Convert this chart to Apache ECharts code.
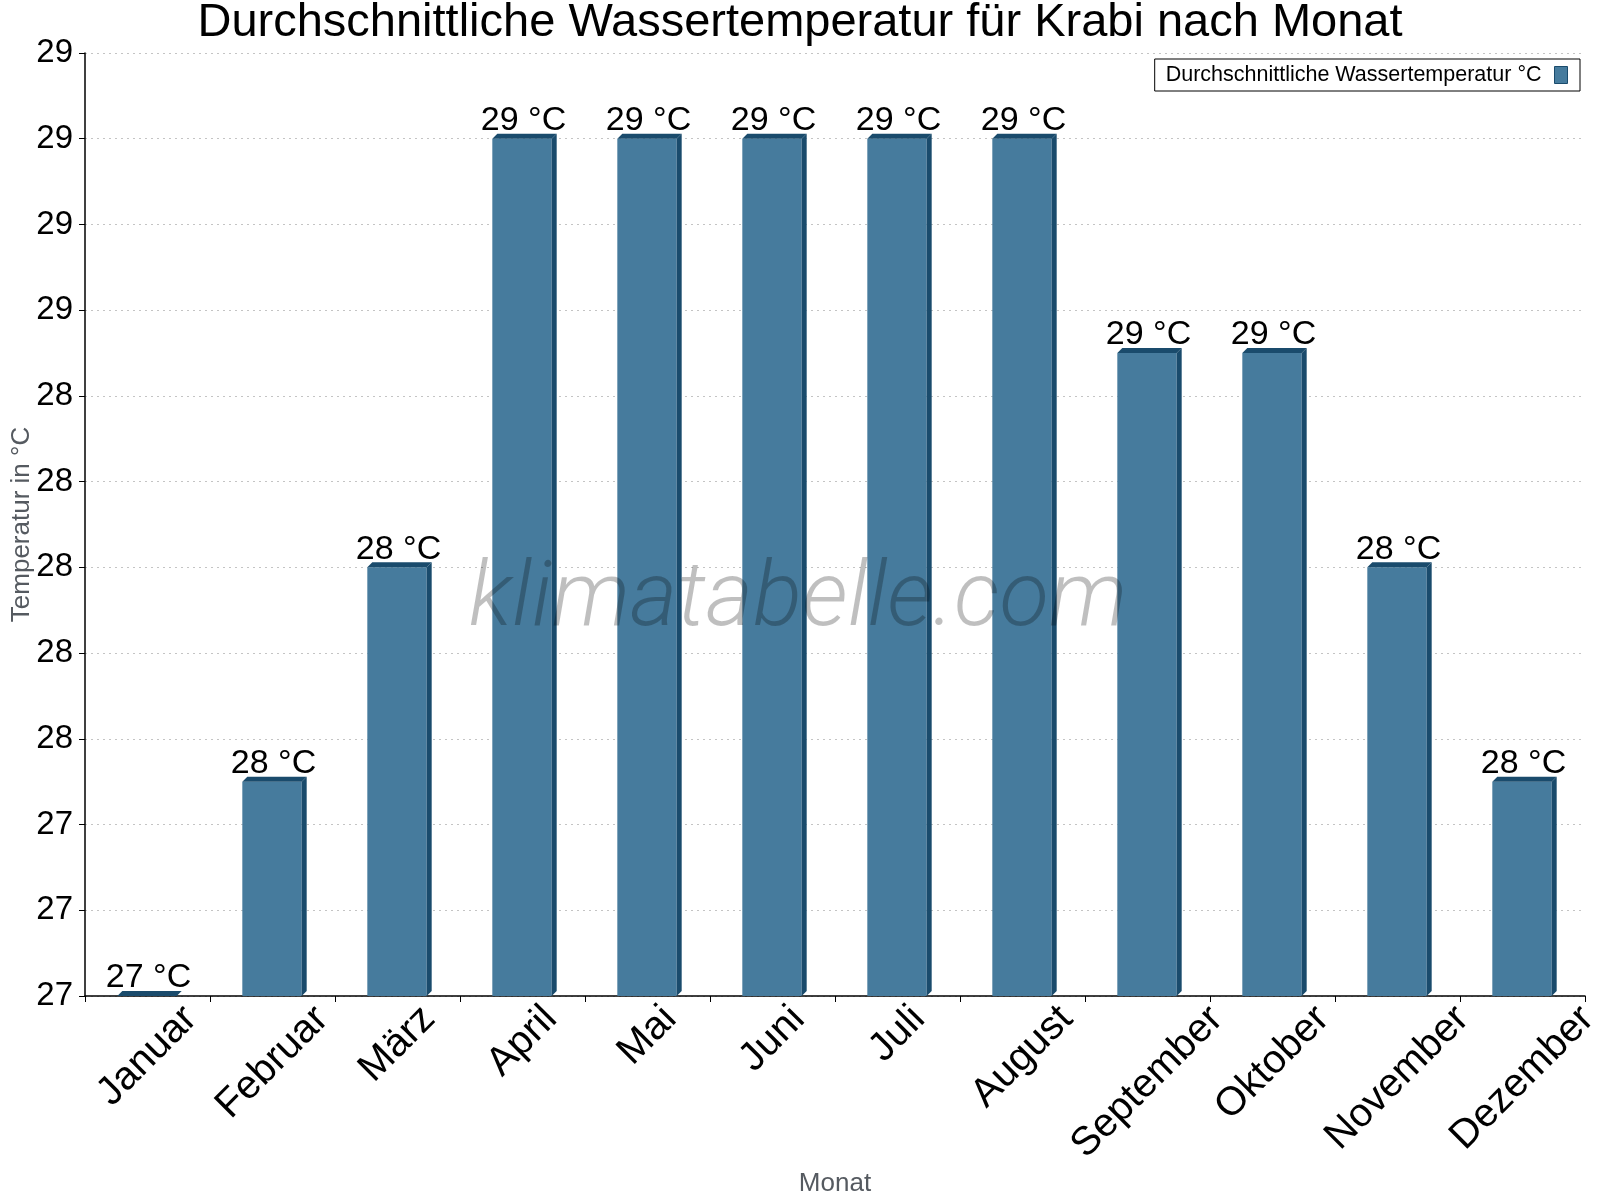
<!DOCTYPE html>
<html>
<head>
<meta charset="utf-8">
<script src="https://cdn.jsdelivr.net/npm/echarts@6/dist/echarts.min.js"></script>
<style>html,body{margin:0;padding:0;background:#fff}#c{width:1600px;height:1200px}</style>
</head>
<body>
<div id="c"></div>
<script>
const months = ['Januar','Februar','März','April','Mai','Juni','Juli','August','September','Oktober','November','Dezember'];
const waterTemp = [27.0, 27.5, 28.0, 29.0, 29.0, 29.0, 29.0, 29.0, 28.5, 28.5, 28.0, 27.5];
const seriesName = 'Durchschnittliche Wassertemperatur °C';
const titleText = 'Durchschnittliche Wassertemperatur für Krabi nach Monat';
const yMin = 27.0, yMax = 29.2, yStep = 0.2;

const FRONT = '#467b9d';
const DARK = '#1a4b6c';
const FONT = '"Liberation Sans", Arial, sans-serif';
const XLABEL_SIZE = 40;

// measure label widths so each rotated label's bounding box is centred under its category
const mctx = document.createElement('canvas').getContext('2d');
mctx.font = XLABEL_SIZE + 'px "Liberation Sans", Arial, sans-serif';
const xRich = {};
months.forEach((m, i) => {
  const half = Math.round(mctx.measureText(m).width / 2);
  xRich['m' + i] = {fontFamily: FONT, fontSize: XLABEL_SIZE, color: '#000', padding: [half, half, 0, 0]};
});

const chart = echarts.init(document.getElementById('c'), null, {renderer:'canvas'});

function renderItem(params, api) {
  const ci = api.value(0), v = api.value(1);
  const p = api.coord([ci, v]);
  const b = api.coord([ci, yMin]);
  const w = api.size([1, 0])[0] * 0.475;
  const x0 = p[0] - w / 2 - 0.5, x1 = x0 + w;
  const dx = 5, dy = 5;
  return {
    type: 'group',
    children: [
      {type:'rect', shape:{x:x0, y:p[1], width:w, height:b[1]-p[1]}, style:{fill:FRONT}},
      {type:'polygon', shape:{points:[[x0,p[1]],[x0+dx,p[1]-dy],[x1+dx,p[1]-dy],[x1,p[1]]]}, style:{fill:DARK}},
      {type:'polygon', shape:{points:[[x1,p[1]],[x1+dx,p[1]-dy],[x1+dx,b[1]-dy],[x1,b[1]]]}, style:{fill:DARK}},
      {type:'text', style:{text: Math.round(v) + ' °C', x: p[0] + 1, y: p[1] - 1, align:'center', verticalAlign:'bottom', fill:'#000', font: '34px ' + FONT}}
    ]
  };
}

chart.setOption({
  animation: false,
  backgroundColor: '#fff',
  title: {
    text: titleText,
    left: 'center',
    top: -5,
    textStyle: {fontFamily: FONT, fontSize: 47, fontWeight: 'normal', color: '#000'}
  },
  legend: {
    right: 20, top: 59,
    align: 'right',
    orient: 'horizontal',
    padding: [5, 12, 5, 11],
    borderColor: '#000', borderWidth: 1, borderRadius: 0,
    itemWidth: 13, itemHeight: 17,
    textStyle: {fontFamily: FONT, fontSize: 21.5, color: '#000', padding: [0, 8, 0, 0]},
    data: [{name: seriesName, icon: 'rect', itemStyle: {color: FRONT, borderColor: DARK, borderWidth: 1}}]
  },
  grid: {left: 85, right: 15, top: 53, bottom: 204, containLabel: false, outerBoundsMode: 'none'},
  xAxis: {
    type: 'category',
    data: months,
    name: 'Monat',
    nameLocation: 'middle',
    nameGap: 175,
    nameMoveOverlap: false,
    nameTextStyle: {fontFamily: FONT, fontSize: 26, color: '#555a60'},
    axisLine: {lineStyle: {color: '#000', width: 1.5}},
    axisTick: {show: true, interval: 0, length: 6, lineStyle: {color: '#000'}},
    axisLabel: {
      interval: 0, rotate: 45, margin: 17,
      align: 'center', verticalAlign: 'middle',
      fontFamily: FONT, fontSize: XLABEL_SIZE, color: '#000', hideOverlap: false,
      formatter: (val, idx) => '{m' + idx + '|' + val + '}',
      rich: xRich
    },
    splitLine: {show: false}
  },
  yAxis: {
    type: 'value',
    min: yMin, max: yMax, interval: yStep,
    name: 'Temperatur in °C',
    nameLocation: 'middle',
    nameGap: 50,
    nameMoveOverlap: false,
    nameTextStyle: {fontFamily: FONT, fontSize: 26, color: '#555a60'},
    axisLine: {show: true, lineStyle: {color: '#000', width: 1.5}},
    axisTick: {show: true, length: 6, lineStyle: {color: '#000'}},
    axisLabel: {
      fontFamily: FONT, fontSize: 33, color: '#000', margin: 12,
      formatter: v => String(Math.round(v))
    },
    splitLine: {show: true, lineStyle: {color: '#c4c4c4', type: [2, 4], width: 1}}
  },
  graphic: [{
    type: 'text',
    x: 798, y: 602, z: 100,
    style: {
      text: 'klimatabelle.com',
      align: 'center', verticalAlign: 'middle',
      font: 'italic 300 91px Roboto, "Open Sans", sans-serif',
      fill: 'rgba(0,0,0,0.25)'
    }
  }],
  series: [{
    type: 'custom',
    name: seriesName,
    renderItem: renderItem,
    itemStyle: {color: FRONT, borderColor: DARK},
    encode: {x: 0, y: 1},
    data: waterTemp.map((v, i) => [i, v]),
    clip: false
  }]
});
</script>
</body>
</html>
